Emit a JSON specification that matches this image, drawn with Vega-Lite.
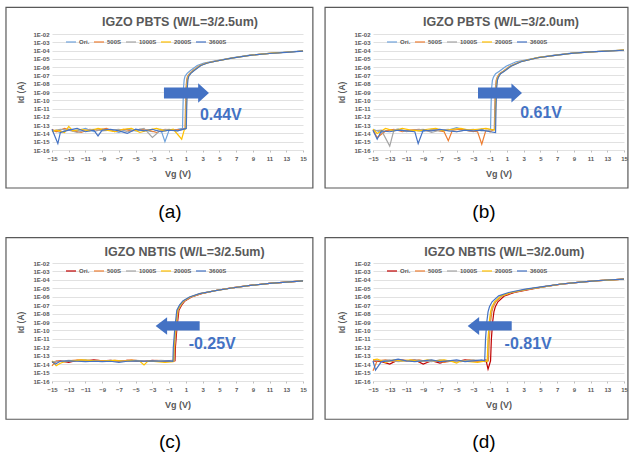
{
"$schema": "https://vega.github.io/schema/vega-lite/v6.json",
"padding": {"left": 5, "top": 6, "right": 0, "bottom": 0},
"background": "white",
"columns": 2,
"spacing": {"row": 113, "column": 70},
"bounds": "flush",
"align": "each",
"resolve": {"scale": {"color": "independent", "x": "independent", "y": "independent"}, "legend": {"color": "independent"}},
"config": {
  "view": {"stroke": null},
  "font": "Liberation Sans",
  "axis": {"labelFont": "Liberation Sans", "labelFontSize": 6, "labelFontWeight": "bold", "labelColor": "#595959", "titleFont": "Liberation Sans", "titleColor": "#595959", "titleFontWeight": "bold", "domain": false, "labelFlush": false, "labelOverlap": false},
  "axisX": {"grid": false, "ticks": true, "tickSize": 2, "tickColor": "#bfbfbf", "labelPadding": 3, "titlePadding": 8, "titleFontSize": 9, "labelAngle": 0},
  "axisY": {"grid": true, "ticks": false, "gridColor": "#d9d9d9", "gridWidth": 0.8, "labelPadding": 3, "titlePadding": 7, "titleFontSize": 8.5},
  "line": {"strokeWidth": 1.2}
},
"datasets": {
"a": [
{"s":"Ori.","x":-15,"y":2.5e-14},{"s":"Ori.","x":-14,"y":1.3e-14},{"s":"Ori.","x":-13,"y":3.2e-14},{"s":"Ori.","x":-12,"y":2e-14},{"s":"Ori.","x":-11,"y":4e-14},{"s":"Ori.","x":-10,"y":1.6e-14},{"s":"Ori.","x":-9,"y":3.2e-14},{"s":"Ori.","x":-8,"y":2.5e-14},{"s":"Ori.","x":-7,"y":1.3e-14},{"s":"Ori.","x":-6,"y":3.2e-14},{"s":"Ori.","x":-5,"y":2e-14},{"s":"Ori.","x":-4,"y":2.5e-14},{"s":"Ori.","x":-3,"y":1.6e-14},{"s":"Ori.","x":-2,"y":3.2e-14},{"s":"Ori.","x":-1.5,"y":1e-15},{"s":"Ori.","x":-1,"y":2.5e-14},{"s":"Ori.","x":0,"y":3.2e-14},{"s":"Ori.","x":0.6,"y":4e-14},{"s":"Ori.","x":0.65,"y":1e-11},{"s":"Ori.","x":0.72,"y":3.2e-9},{"s":"Ori.","x":0.8,"y":3.2e-8},{"s":"Ori.","x":0.9,"y":8e-8},{"s":"Ori.","x":1.15,"y":1.8e-7},{"s":"Ori.","x":1.55,"y":4e-7},{"s":"Ori.","x":2.35,"y":1.6e-6},{"s":"Ori.","x":3.15,"y":3.2e-6},{"s":"Ori.","x":4.7,"y":6e-6},{"s":"Ori.","x":6.5,"y":1.3e-5},{"s":"Ori.","x":8.65,"y":2.8e-5},{"s":"Ori.","x":11,"y":4.6e-5},{"s":"Ori.","x":13,"y":6.4e-5},{"s":"Ori.","x":15,"y":9e-5},
{"s":"500S","x":-15,"y":3.2e-14},{"s":"500S","x":-14.5,"y":1.6e-14},{"s":"500S","x":-13.5,"y":4e-14},{"s":"500S","x":-12.5,"y":2e-14},{"s":"500S","x":-11.5,"y":1.3e-14},{"s":"500S","x":-10.5,"y":3.2e-14},{"s":"500S","x":-9.5,"y":2.5e-14},{"s":"500S","x":-8.5,"y":4e-14},{"s":"500S","x":-7.5,"y":1.6e-14},{"s":"500S","x":-6.5,"y":3.2e-14},{"s":"500S","x":-5.5,"y":2e-14},{"s":"500S","x":-4.5,"y":3.2e-14},{"s":"500S","x":-3.5,"y":2.5e-14},{"s":"500S","x":-2.5,"y":1.3e-14},{"s":"500S","x":-1.5,"y":3.2e-14},{"s":"500S","x":-0.5,"y":2.5e-14},{"s":"500S","x":0.5,"y":3.2e-14},{"s":"500S","x":0.9,"y":4e-14},{"s":"500S","x":0.95,"y":1e-11},{"s":"500S","x":1.02,"y":3.2e-9},{"s":"500S","x":1.1,"y":3.2e-8},{"s":"500S","x":1.2,"y":8e-8},{"s":"500S","x":1.45,"y":1.8e-7},{"s":"500S","x":1.85,"y":4e-7},{"s":"500S","x":2.65,"y":1.6e-6},{"s":"500S","x":3.45,"y":3.2e-6},{"s":"500S","x":4.7,"y":5.7e-6},{"s":"500S","x":6.5,"y":1.27e-5},{"s":"500S","x":8.65,"y":2.72e-5},{"s":"500S","x":11,"y":4.5e-5},{"s":"500S","x":13,"y":6.3e-5},{"s":"500S","x":15,"y":8.9e-5},
{"s":"1000S","x":-15,"y":2e-14},{"s":"1000S","x":-14,"y":3.2e-14},{"s":"1000S","x":-13,"y":2.5e-14},{"s":"1000S","x":-12,"y":1.3e-14},{"s":"1000S","x":-11,"y":2.5e-14},{"s":"1000S","x":-10,"y":3.2e-14},{"s":"1000S","x":-9,"y":2e-14},{"s":"1000S","x":-8,"y":2.5e-14},{"s":"1000S","x":-7,"y":3.2e-14},{"s":"1000S","x":-6,"y":1.6e-14},{"s":"1000S","x":-5,"y":2.5e-14},{"s":"1000S","x":-4,"y":4e-14},{"s":"1000S","x":-3,"y":3.2e-15},{"s":"1000S","x":-2,"y":2.5e-14},{"s":"1000S","x":-1,"y":3.2e-14},{"s":"1000S","x":0,"y":2e-14},{"s":"1000S","x":0.95,"y":4e-14},{"s":"1000S","x":1.0,"y":1e-11},{"s":"1000S","x":1.07,"y":3.2e-9},{"s":"1000S","x":1.15,"y":3.2e-8},{"s":"1000S","x":1.25,"y":8e-8},{"s":"1000S","x":1.5,"y":1.8e-7},{"s":"1000S","x":1.9,"y":4e-7},{"s":"1000S","x":2.7,"y":1.6e-6},{"s":"1000S","x":3.5,"y":3.2e-6},{"s":"1000S","x":4.7,"y":5.6e-6},{"s":"1000S","x":6.5,"y":1.26e-5},{"s":"1000S","x":8.65,"y":2.7e-5},{"s":"1000S","x":11,"y":4.5e-5},{"s":"1000S","x":13,"y":6.3e-5},{"s":"1000S","x":15,"y":8.9e-5},
{"s":"2000S","x":-15,"y":1.6e-14},{"s":"2000S","x":-14.5,"y":2.5e-14},{"s":"2000S","x":-13.5,"y":1.3e-14},{"s":"2000S","x":-13,"y":7e-14},{"s":"2000S","x":-12.5,"y":2e-14},{"s":"2000S","x":-11.5,"y":3.2e-14},{"s":"2000S","x":-10.5,"y":2e-14},{"s":"2000S","x":-9.5,"y":4e-14},{"s":"2000S","x":-8.5,"y":2.5e-14},{"s":"2000S","x":-7.5,"y":1.6e-14},{"s":"2000S","x":-6.5,"y":3.2e-14},{"s":"2000S","x":-5.5,"y":4e-14},{"s":"2000S","x":-4.5,"y":1.3e-14},{"s":"2000S","x":-3.5,"y":2.5e-14},{"s":"2000S","x":-2.5,"y":4e-14},{"s":"2000S","x":-1.5,"y":2e-14},{"s":"2000S","x":-0.5,"y":3.2e-14},{"s":"2000S","x":0.5,"y":2e-15},{"s":"2000S","x":0.8,"y":2.5e-14},{"s":"2000S","x":1.0,"y":4e-14},{"s":"2000S","x":1.05,"y":1e-11},{"s":"2000S","x":1.12,"y":3.2e-9},{"s":"2000S","x":1.2,"y":3.2e-8},{"s":"2000S","x":1.3,"y":8e-8},{"s":"2000S","x":1.55,"y":1.8e-7},{"s":"2000S","x":1.95,"y":4e-7},{"s":"2000S","x":2.75,"y":1.6e-6},{"s":"2000S","x":3.55,"y":3.2e-6},{"s":"2000S","x":4.7,"y":5.55e-6},{"s":"2000S","x":6.5,"y":1.25e-5},{"s":"2000S","x":8.65,"y":2.68e-5},{"s":"2000S","x":11,"y":4.47e-5},{"s":"2000S","x":13,"y":6.25e-5},{"s":"2000S","x":15,"y":8.85e-5},
{"s":"3600S","x":-15,"y":3.2e-14},{"s":"3600S","x":-14.3,"y":6e-16},{"s":"3600S","x":-14,"y":1.3e-14},{"s":"3600S","x":-13,"y":2.5e-14},{"s":"3600S","x":-12,"y":4e-14},{"s":"3600S","x":-11,"y":1.6e-14},{"s":"3600S","x":-10,"y":2.5e-14},{"s":"3600S","x":-9.5,"y":5e-15},{"s":"3600S","x":-9,"y":2.5e-14},{"s":"3600S","x":-8,"y":3.2e-14},{"s":"3600S","x":-7,"y":2e-14},{"s":"3600S","x":-6,"y":1e-14},{"s":"3600S","x":-5,"y":3.2e-14},{"s":"3600S","x":-4,"y":2e-14},{"s":"3600S","x":-3,"y":3.2e-14},{"s":"3600S","x":-2,"y":1.6e-14},{"s":"3600S","x":-1,"y":2.5e-14},{"s":"3600S","x":0,"y":2e-14},{"s":"3600S","x":1.05,"y":4e-14},{"s":"3600S","x":1.1,"y":1e-11},{"s":"3600S","x":1.17,"y":3.2e-9},{"s":"3600S","x":1.25,"y":3.2e-8},{"s":"3600S","x":1.35,"y":8e-8},{"s":"3600S","x":1.6,"y":1.8e-7},{"s":"3600S","x":2.0,"y":4e-7},{"s":"3600S","x":2.8,"y":1.6e-6},{"s":"3600S","x":3.6,"y":3.2e-6},{"s":"3600S","x":4.7,"y":5.5e-6},{"s":"3600S","x":6.5,"y":1.24e-5},{"s":"3600S","x":8.65,"y":2.66e-5},{"s":"3600S","x":11,"y":4.45e-5},{"s":"3600S","x":13,"y":6.2e-5},{"s":"3600S","x":15,"y":8.8e-5}
],
"b": [
{"s":"Ori.","x":-15,"y":3.2e-14},{"s":"Ori.","x":-14,"y":1.3e-14},{"s":"Ori.","x":-13,"y":2.5e-14},{"s":"Ori.","x":-12,"y":3.2e-14},{"s":"Ori.","x":-11,"y":2e-14},{"s":"Ori.","x":-10,"y":2.5e-14},{"s":"Ori.","x":-9,"y":1.6e-14},{"s":"Ori.","x":-8,"y":3.2e-14},{"s":"Ori.","x":-7,"y":2e-14},{"s":"Ori.","x":-6,"y":2.5e-14},{"s":"Ori.","x":-5,"y":5e-14},{"s":"Ori.","x":-4,"y":2.5e-14},{"s":"Ori.","x":-3,"y":1.6e-14},{"s":"Ori.","x":-2,"y":3.2e-14},{"s":"Ori.","x":-1.5,"y":2e-14},{"s":"Ori.","x":-0.95,"y":3.2e-14},{"s":"Ori.","x":-0.9,"y":1e-11},{"s":"Ori.","x":-0.83,"y":2.5e-9},{"s":"Ori.","x":-0.73,"y":2.5e-8},{"s":"Ori.","x":-0.6,"y":6.3e-8},{"s":"Ori.","x":-0.35,"y":1.6e-7},{"s":"Ori.","x":0.1,"y":3.2e-7},{"s":"Ori.","x":0.9,"y":1.26e-6},{"s":"Ori.","x":2.1,"y":4.5e-6},{"s":"Ori.","x":4.7,"y":1.45e-5},{"s":"Ori.","x":6.5,"y":2.6e-5},{"s":"Ori.","x":8.7,"y":4.8e-5},{"s":"Ori.","x":11,"y":7.1e-5},{"s":"Ori.","x":13,"y":9e-5},{"s":"Ori.","x":15,"y":1.13e-4},
{"s":"500S","x":-15,"y":2.5e-14},{"s":"500S","x":-14.5,"y":3.2e-15},{"s":"500S","x":-13.5,"y":2e-14},{"s":"500S","x":-12.5,"y":3.2e-14},{"s":"500S","x":-11.5,"y":1.6e-14},{"s":"500S","x":-10.5,"y":2.5e-14},{"s":"500S","x":-9.5,"y":3.2e-14},{"s":"500S","x":-8.5,"y":2e-14},{"s":"500S","x":-7.5,"y":2.5e-14},{"s":"500S","x":-6.5,"y":1.6e-14},{"s":"500S","x":-6,"y":1.3e-15},{"s":"500S","x":-5.5,"y":2.5e-14},{"s":"500S","x":-4.5,"y":3.2e-14},{"s":"500S","x":-3.5,"y":2e-14},{"s":"500S","x":-2.5,"y":1.6e-14},{"s":"500S","x":-2,"y":5e-16},{"s":"500S","x":-1.5,"y":2.5e-14},{"s":"500S","x":-1,"y":1.6e-14},{"s":"500S","x":-0.5,"y":3.2e-14},{"s":"500S","x":-0.45,"y":1e-11},{"s":"500S","x":-0.38,"y":2.5e-9},{"s":"500S","x":-0.28,"y":2.5e-8},{"s":"500S","x":-0.15,"y":6.3e-8},{"s":"500S","x":0.1,"y":1.6e-7},{"s":"500S","x":0.55,"y":3.2e-7},{"s":"500S","x":1.35,"y":1.26e-6},{"s":"500S","x":2.55,"y":4.5e-6},{"s":"500S","x":4.7,"y":1.4e-5},{"s":"500S","x":6.5,"y":2.52e-5},{"s":"500S","x":8.7,"y":4.72e-5},{"s":"500S","x":11,"y":7e-5},{"s":"500S","x":13,"y":8.9e-5},{"s":"500S","x":15,"y":1.12e-4},
{"s":"1000S","x":-15,"y":2e-14},{"s":"1000S","x":-14,"y":2.5e-14},{"s":"1000S","x":-13,"y":3e-16},{"s":"1000S","x":-12.5,"y":2.5e-14},{"s":"1000S","x":-12,"y":3.2e-14},{"s":"1000S","x":-11,"y":1.6e-14},{"s":"1000S","x":-10,"y":2.5e-14},{"s":"1000S","x":-9,"y":3.2e-14},{"s":"1000S","x":-8,"y":1.3e-14},{"s":"1000S","x":-7,"y":2.5e-14},{"s":"1000S","x":-6,"y":3.2e-14},{"s":"1000S","x":-5,"y":1.6e-14},{"s":"1000S","x":-4,"y":2.5e-14},{"s":"1000S","x":-3,"y":3.2e-14},{"s":"1000S","x":-2,"y":2e-14},{"s":"1000S","x":-1,"y":2.5e-14},{"s":"1000S","x":-0.45,"y":3.2e-14},{"s":"1000S","x":-0.4,"y":1e-11},{"s":"1000S","x":-0.33,"y":2.5e-9},{"s":"1000S","x":-0.23,"y":2.5e-8},{"s":"1000S","x":-0.1,"y":6.3e-8},{"s":"1000S","x":0.15,"y":1.6e-7},{"s":"1000S","x":0.6,"y":3.2e-7},{"s":"1000S","x":1.4,"y":1.26e-6},{"s":"1000S","x":2.6,"y":4.5e-6},{"s":"1000S","x":4.7,"y":1.39e-5},{"s":"1000S","x":6.5,"y":2.5e-5},{"s":"1000S","x":8.7,"y":4.7e-5},{"s":"1000S","x":11,"y":7e-5},{"s":"1000S","x":13,"y":8.9e-5},{"s":"1000S","x":15,"y":1.12e-4},
{"s":"2000S","x":-15,"y":3.2e-14},{"s":"2000S","x":-14.5,"y":1e-14},{"s":"2000S","x":-13.5,"y":4e-14},{"s":"2000S","x":-12.5,"y":2e-14},{"s":"2000S","x":-11.5,"y":4e-14},{"s":"2000S","x":-10.5,"y":2.5e-14},{"s":"2000S","x":-9.5,"y":2e-14},{"s":"2000S","x":-8.5,"y":3.2e-14},{"s":"2000S","x":-7.5,"y":4e-14},{"s":"2000S","x":-6.5,"y":2e-14},{"s":"2000S","x":-5.5,"y":3.2e-14},{"s":"2000S","x":-4.5,"y":4e-14},{"s":"2000S","x":-3.5,"y":2.5e-14},{"s":"2000S","x":-2.5,"y":3.2e-14},{"s":"2000S","x":-1.5,"y":4e-14},{"s":"2000S","x":-0.5,"y":2.5e-14},{"s":"2000S","x":-0.4,"y":3.2e-14},{"s":"2000S","x":-0.35,"y":1e-11},{"s":"2000S","x":-0.28,"y":2.5e-9},{"s":"2000S","x":-0.18,"y":2.5e-8},{"s":"2000S","x":-0.05,"y":6.3e-8},{"s":"2000S","x":0.2,"y":1.6e-7},{"s":"2000S","x":0.65,"y":3.2e-7},{"s":"2000S","x":1.45,"y":1.26e-6},{"s":"2000S","x":2.65,"y":4.5e-6},{"s":"2000S","x":4.7,"y":1.38e-5},{"s":"2000S","x":6.5,"y":2.49e-5},{"s":"2000S","x":8.7,"y":4.68e-5},{"s":"2000S","x":11,"y":6.95e-5},{"s":"2000S","x":13,"y":8.85e-5},{"s":"2000S","x":15,"y":1.11e-4},
{"s":"3600S","x":-15,"y":2.5e-14},{"s":"3600S","x":-14.5,"y":2e-15},{"s":"3600S","x":-14,"y":2e-14},{"s":"3600S","x":-13,"y":1.6e-14},{"s":"3600S","x":-12,"y":2.5e-14},{"s":"3600S","x":-11,"y":2e-14},{"s":"3600S","x":-10,"y":1.6e-14},{"s":"3600S","x":-9.6,"y":6e-16},{"s":"3600S","x":-9,"y":2.5e-14},{"s":"3600S","x":-8,"y":2e-14},{"s":"3600S","x":-7,"y":3.2e-14},{"s":"3600S","x":-6,"y":2e-14},{"s":"3600S","x":-5,"y":1.6e-14},{"s":"3600S","x":-4,"y":2.5e-14},{"s":"3600S","x":-3,"y":2e-14},{"s":"3600S","x":-2,"y":2.5e-14},{"s":"3600S","x":-1,"y":1.6e-14},{"s":"3600S","x":-0.35,"y":1.3e-14},{"s":"3600S","x":-0.3,"y":1e-11},{"s":"3600S","x":-0.23,"y":2.5e-9},{"s":"3600S","x":-0.13,"y":2.5e-8},{"s":"3600S","x":0.0,"y":6.3e-8},{"s":"3600S","x":0.25,"y":1.6e-7},{"s":"3600S","x":0.7,"y":3.2e-7},{"s":"3600S","x":1.5,"y":1.26e-6},{"s":"3600S","x":2.7,"y":4.5e-6},{"s":"3600S","x":4.7,"y":1.37e-5},{"s":"3600S","x":6.5,"y":2.48e-5},{"s":"3600S","x":8.7,"y":4.65e-5},{"s":"3600S","x":11,"y":6.9e-5},{"s":"3600S","x":13,"y":8.8e-5},{"s":"3600S","x":15,"y":1.1e-4}
],
"c": [
{"s":"Ori.","x":-15,"y":1.6e-14},{"s":"Ori.","x":-14,"y":2.5e-14},{"s":"Ori.","x":-13,"y":1.6e-14},{"s":"Ori.","x":-12,"y":2.8e-14},{"s":"Ori.","x":-11,"y":2.5e-14},{"s":"Ori.","x":-10,"y":3.2e-14},{"s":"Ori.","x":-9,"y":2.5e-14},{"s":"Ori.","x":-8,"y":2.8e-14},{"s":"Ori.","x":-7,"y":2.2e-14},{"s":"Ori.","x":-6,"y":2.8e-14},{"s":"Ori.","x":-5,"y":2.5e-14},{"s":"Ori.","x":-4,"y":2.2e-14},{"s":"Ori.","x":-3,"y":2.8e-14},{"s":"Ori.","x":-2,"y":2.5e-14},{"s":"Ori.","x":-1,"y":2.2e-14},{"s":"Ori.","x":-0.3,"y":2.5e-14},{"s":"Ori.","x":-0.25,"y":1e-12},{"s":"Ori.","x":-0.06,"y":2.5e-10},{"s":"Ori.","x":0.17,"y":2.5e-8},{"s":"Ori.","x":0.49,"y":1e-7},{"s":"Ori.","x":0.89,"y":3.2e-7},{"s":"Ori.","x":1.68,"y":9.3e-7},{"s":"Ori.","x":2.87,"y":2.3e-6},{"s":"Ori.","x":4.73,"y":5.9e-6},{"s":"Ori.","x":6.5,"y":1.12e-5},{"s":"Ori.","x":8.7,"y":2.22e-5},{"s":"Ori.","x":11,"y":3.82e-5},{"s":"Ori.","x":13,"y":5.42e-5},{"s":"Ori.","x":15,"y":7.42e-5},
{"s":"500S","x":-15,"y":6.3e-15},{"s":"500S","x":-14.5,"y":2.5e-14},{"s":"500S","x":-13.5,"y":2e-14},{"s":"500S","x":-12.5,"y":2.8e-14},{"s":"500S","x":-11.5,"y":3.2e-14},{"s":"500S","x":-10.5,"y":2.5e-14},{"s":"500S","x":-9.5,"y":2.8e-14},{"s":"500S","x":-8.5,"y":2.2e-14},{"s":"500S","x":-7.5,"y":2.8e-14},{"s":"500S","x":-6.5,"y":2.5e-14},{"s":"500S","x":-5.5,"y":3.2e-14},{"s":"500S","x":-4.5,"y":2.5e-14},{"s":"500S","x":-3.5,"y":2.2e-14},{"s":"500S","x":-2.5,"y":2.8e-14},{"s":"500S","x":-1.5,"y":2.5e-14},{"s":"500S","x":-0.5,"y":2.8e-14},{"s":"500S","x":-0.38,"y":2.5e-14},{"s":"500S","x":-0.33,"y":1e-12},{"s":"500S","x":-0.14,"y":2.5e-10},{"s":"500S","x":0.09,"y":2.5e-8},{"s":"500S","x":0.41,"y":1e-7},{"s":"500S","x":0.81,"y":3.2e-7},{"s":"500S","x":1.6,"y":9.3e-7},{"s":"500S","x":2.79,"y":2.3e-6},{"s":"500S","x":4.73,"y":5.85e-6},{"s":"500S","x":6.5,"y":1.11e-5},{"s":"500S","x":8.7,"y":2.21e-5},{"s":"500S","x":11,"y":3.81e-5},{"s":"500S","x":13,"y":5.41e-5},{"s":"500S","x":15,"y":7.41e-5},
{"s":"1000S","x":-15,"y":2e-14},{"s":"1000S","x":-14,"y":2.2e-14},{"s":"1000S","x":-13,"y":2.8e-14},{"s":"1000S","x":-12,"y":2.5e-14},{"s":"1000S","x":-11,"y":3.2e-14},{"s":"1000S","x":-10,"y":2.5e-14},{"s":"1000S","x":-9,"y":2.2e-14},{"s":"1000S","x":-8,"y":2.8e-14},{"s":"1000S","x":-7,"y":2.5e-14},{"s":"1000S","x":-6,"y":2.2e-14},{"s":"1000S","x":-5,"y":2.8e-14},{"s":"1000S","x":-4,"y":2.5e-14},{"s":"1000S","x":-3,"y":2.2e-14},{"s":"1000S","x":-2,"y":2.8e-14},{"s":"1000S","x":-1,"y":2.5e-14},{"s":"1000S","x":-0.42,"y":2.8e-14},{"s":"1000S","x":-0.37,"y":1e-12},{"s":"1000S","x":-0.18,"y":2.5e-10},{"s":"1000S","x":0.05,"y":2.5e-8},{"s":"1000S","x":0.37,"y":1e-7},{"s":"1000S","x":0.77,"y":3.2e-7},{"s":"1000S","x":1.56,"y":9.3e-7},{"s":"1000S","x":2.75,"y":2.3e-6},{"s":"1000S","x":4.73,"y":5.8e-6},{"s":"1000S","x":6.5,"y":1.1e-5},{"s":"1000S","x":8.7,"y":2.2e-5},{"s":"1000S","x":11,"y":3.8e-5},{"s":"1000S","x":13,"y":5.4e-5},{"s":"1000S","x":15,"y":7.4e-5},
{"s":"2000S","x":-15,"y":2.5e-14},{"s":"2000S","x":-14.5,"y":6.3e-15},{"s":"2000S","x":-14,"y":1.3e-14},{"s":"2000S","x":-13.5,"y":2e-14},{"s":"2000S","x":-12.5,"y":2.5e-14},{"s":"2000S","x":-11.5,"y":3.2e-14},{"s":"2000S","x":-10.5,"y":2.8e-14},{"s":"2000S","x":-9.5,"y":2.2e-14},{"s":"2000S","x":-8.5,"y":2.5e-14},{"s":"2000S","x":-7.5,"y":2.8e-14},{"s":"2000S","x":-6.5,"y":2.2e-14},{"s":"2000S","x":-5.5,"y":2.8e-14},{"s":"2000S","x":-4.5,"y":2.2e-14},{"s":"2000S","x":-4,"y":8e-15},{"s":"2000S","x":-3.5,"y":2.5e-14},{"s":"2000S","x":-2.5,"y":2e-14},{"s":"2000S","x":-1.5,"y":1.6e-14},{"s":"2000S","x":-0.5,"y":2e-14},{"s":"2000S","x":-0.47,"y":2.2e-14},{"s":"2000S","x":-0.42,"y":1e-12},{"s":"2000S","x":-0.23,"y":2.5e-10},{"s":"2000S","x":0.0,"y":2.5e-8},{"s":"2000S","x":0.32,"y":1e-7},{"s":"2000S","x":0.72,"y":3.2e-7},{"s":"2000S","x":1.51,"y":9.3e-7},{"s":"2000S","x":2.7,"y":2.3e-6},{"s":"2000S","x":4.73,"y":5.78e-6},{"s":"2000S","x":6.5,"y":1.09e-5},{"s":"2000S","x":8.7,"y":2.19e-5},{"s":"2000S","x":11,"y":3.79e-5},{"s":"2000S","x":13,"y":5.39e-5},{"s":"2000S","x":15,"y":7.39e-5},
{"s":"3600S","x":-15,"y":2e-14},{"s":"3600S","x":-14.6,"y":1e-14},{"s":"3600S","x":-14,"y":2.2e-14},{"s":"3600S","x":-13,"y":2.5e-14},{"s":"3600S","x":-12,"y":2.2e-14},{"s":"3600S","x":-11,"y":2e-14},{"s":"3600S","x":-10,"y":2.2e-14},{"s":"3600S","x":-9,"y":2e-14},{"s":"3600S","x":-8,"y":2.2e-14},{"s":"3600S","x":-7,"y":1.6e-14},{"s":"3600S","x":-6,"y":2.2e-14},{"s":"3600S","x":-5,"y":2.5e-14},{"s":"3600S","x":-4,"y":2.2e-14},{"s":"3600S","x":-3,"y":2.5e-14},{"s":"3600S","x":-2,"y":2.2e-14},{"s":"3600S","x":-1,"y":2.5e-14},{"s":"3600S","x":-0.55,"y":2.2e-14},{"s":"3600S","x":-0.5,"y":1e-12},{"s":"3600S","x":-0.31,"y":2.5e-10},{"s":"3600S","x":-0.08,"y":2.5e-8},{"s":"3600S","x":0.24,"y":1e-7},{"s":"3600S","x":0.64,"y":3.2e-7},{"s":"3600S","x":1.43,"y":9.3e-7},{"s":"3600S","x":2.62,"y":2.3e-6},{"s":"3600S","x":4.73,"y":5.75e-6},{"s":"3600S","x":6.5,"y":1.08e-5},{"s":"3600S","x":8.7,"y":2.18e-5},{"s":"3600S","x":11,"y":3.78e-5},{"s":"3600S","x":13,"y":5.38e-5},{"s":"3600S","x":15,"y":7.38e-5}
],
"d": [
{"s":"Ori.","x":-15,"y":2.5e-14},{"s":"Ori.","x":-14,"y":2e-14},{"s":"Ori.","x":-13,"y":1e-14},{"s":"Ori.","x":-12,"y":3.2e-14},{"s":"Ori.","x":-11,"y":2.5e-14},{"s":"Ori.","x":-10,"y":3.2e-14},{"s":"Ori.","x":-9,"y":1e-14},{"s":"Ori.","x":-8,"y":2.5e-14},{"s":"Ori.","x":-7,"y":1.3e-14},{"s":"Ori.","x":-6,"y":2.5e-14},{"s":"Ori.","x":-5,"y":2e-14},{"s":"Ori.","x":-4,"y":3.2e-14},{"s":"Ori.","x":-3,"y":2.5e-14},{"s":"Ori.","x":-2,"y":2.5e-14},{"s":"Ori.","x":-1.5,"y":3.2e-14},{"s":"Ori.","x":-1.25,"y":2.5e-15},{"s":"Ori.","x":-0.95,"y":2.5e-14},{"s":"Ori.","x":-0.85,"y":1e-11},{"s":"Ori.","x":-0.7,"y":1e-9},{"s":"Ori.","x":-0.55,"y":1.6e-8},{"s":"Ori.","x":-0.38,"y":6.3e-8},{"s":"Ori.","x":-0.07,"y":2.5e-7},{"s":"Ori.","x":0.72,"y":1.26e-6},{"s":"Ori.","x":1.91,"y":3.2e-6},{"s":"Ori.","x":3.9,"y":7.9e-6},{"s":"Ori.","x":5.5,"y":1.58e-5},{"s":"Ori.","x":7.5,"y":3.15e-5},{"s":"Ori.","x":9.5,"y":4.95e-5},{"s":"Ori.","x":11.5,"y":7.5e-5},{"s":"Ori.","x":13,"y":9.4e-5},{"s":"Ori.","x":15,"y":1.19e-4},
{"s":"500S","x":-15,"y":1.6e-15},{"s":"500S","x":-14.5,"y":2.5e-14},{"s":"500S","x":-13.5,"y":3.2e-14},{"s":"500S","x":-12.5,"y":2e-14},{"s":"500S","x":-11.5,"y":3.2e-14},{"s":"500S","x":-10.5,"y":2.5e-14},{"s":"500S","x":-9.5,"y":3.2e-14},{"s":"500S","x":-8.5,"y":2e-14},{"s":"500S","x":-7.5,"y":2.5e-14},{"s":"500S","x":-6.5,"y":1.6e-14},{"s":"500S","x":-5.5,"y":2.5e-14},{"s":"500S","x":-4.5,"y":2e-14},{"s":"500S","x":-3.5,"y":3.2e-14},{"s":"500S","x":-2.5,"y":2.5e-14},{"s":"500S","x":-1.5,"y":2e-14},{"s":"500S","x":-1.2,"y":2.5e-14},{"s":"500S","x":-1.1,"y":1e-11},{"s":"500S","x":-0.95,"y":1e-9},{"s":"500S","x":-0.8,"y":1.6e-8},{"s":"500S","x":-0.63,"y":6.3e-8},{"s":"500S","x":-0.32,"y":2.5e-7},{"s":"500S","x":0.47,"y":1.26e-6},{"s":"500S","x":1.66,"y":3.2e-6},{"s":"500S","x":3.65,"y":7.9e-6},{"s":"500S","x":5.5,"y":1.6e-5},{"s":"500S","x":7.5,"y":3.18e-5},{"s":"500S","x":9.5,"y":4.98e-5},{"s":"500S","x":11.5,"y":7.55e-5},{"s":"500S","x":13,"y":9.45e-5},{"s":"500S","x":15,"y":1.195e-4},
{"s":"1000S","x":-15,"y":3.2e-14},{"s":"1000S","x":-14,"y":2.5e-14},{"s":"1000S","x":-13,"y":3.2e-14},{"s":"1000S","x":-12,"y":2e-14},{"s":"1000S","x":-11,"y":2.5e-14},{"s":"1000S","x":-10,"y":3.2e-14},{"s":"1000S","x":-9,"y":2.5e-14},{"s":"1000S","x":-8,"y":2e-14},{"s":"1000S","x":-7,"y":3.2e-14},{"s":"1000S","x":-6,"y":2.5e-14},{"s":"1000S","x":-5,"y":2e-14},{"s":"1000S","x":-4,"y":2.5e-14},{"s":"1000S","x":-3,"y":3.2e-14},{"s":"1000S","x":-2,"y":2.5e-14},{"s":"1000S","x":-1.3,"y":2.5e-14},{"s":"1000S","x":-1.2,"y":1e-11},{"s":"1000S","x":-1.05,"y":1e-9},{"s":"1000S","x":-0.9,"y":1.6e-8},{"s":"1000S","x":-0.73,"y":6.3e-8},{"s":"1000S","x":-0.42,"y":2.5e-7},{"s":"1000S","x":0.37,"y":1.26e-6},{"s":"1000S","x":1.56,"y":3.2e-6},{"s":"1000S","x":3.55,"y":7.9e-6},{"s":"1000S","x":5.5,"y":1.6e-5},{"s":"1000S","x":7.5,"y":3.2e-5},{"s":"1000S","x":9.5,"y":5e-5},{"s":"1000S","x":11.5,"y":7.6e-5},{"s":"1000S","x":13,"y":9.5e-5},{"s":"1000S","x":15,"y":1.2e-4},
{"s":"2000S","x":-15,"y":3.2e-14},{"s":"2000S","x":-14.5,"y":4e-14},{"s":"2000S","x":-13.5,"y":1.6e-14},{"s":"2000S","x":-12.5,"y":3.2e-14},{"s":"2000S","x":-11.5,"y":2.5e-14},{"s":"2000S","x":-10.5,"y":3.2e-14},{"s":"2000S","x":-9.5,"y":2e-14},{"s":"2000S","x":-8.5,"y":3.2e-14},{"s":"2000S","x":-7.5,"y":2.5e-14},{"s":"2000S","x":-6.5,"y":3.2e-14},{"s":"2000S","x":-5.5,"y":2e-14},{"s":"2000S","x":-5,"y":1.3e-14},{"s":"2000S","x":-4.5,"y":2.5e-14},{"s":"2000S","x":-3.5,"y":2e-14},{"s":"2000S","x":-2.5,"y":1.6e-14},{"s":"2000S","x":-1.5,"y":2.5e-14},{"s":"2000S","x":-1.35,"y":2e-14},{"s":"2000S","x":-1.25,"y":1e-11},{"s":"2000S","x":-1.1,"y":1e-9},{"s":"2000S","x":-0.95,"y":1.6e-8},{"s":"2000S","x":-0.78,"y":6.3e-8},{"s":"2000S","x":-0.47,"y":2.5e-7},{"s":"2000S","x":0.32,"y":1.26e-6},{"s":"2000S","x":1.51,"y":3.2e-6},{"s":"2000S","x":3.5,"y":7.9e-6},{"s":"2000S","x":5.5,"y":1.61e-5},{"s":"2000S","x":7.5,"y":3.21e-5},{"s":"2000S","x":9.5,"y":5.02e-5},{"s":"2000S","x":11.5,"y":7.62e-5},{"s":"2000S","x":13,"y":9.52e-5},{"s":"2000S","x":15,"y":1.2e-4},
{"s":"3600S","x":-15,"y":2.5e-14},{"s":"3600S","x":-14.7,"y":2e-15},{"s":"3600S","x":-14,"y":2e-14},{"s":"3600S","x":-13,"y":2.5e-14},{"s":"3600S","x":-12,"y":4e-14},{"s":"3600S","x":-11,"y":2.5e-14},{"s":"3600S","x":-10,"y":2e-14},{"s":"3600S","x":-9,"y":2.5e-14},{"s":"3600S","x":-8,"y":3.2e-14},{"s":"3600S","x":-7,"y":2e-14},{"s":"3600S","x":-6,"y":2.5e-14},{"s":"3600S","x":-5,"y":3.2e-14},{"s":"3600S","x":-4,"y":2e-14},{"s":"3600S","x":-3,"y":2.5e-14},{"s":"3600S","x":-2,"y":3.2e-14},{"s":"3600S","x":-1.65,"y":2.5e-14},{"s":"3600S","x":-1.55,"y":1e-11},{"s":"3600S","x":-1.4,"y":1e-9},{"s":"3600S","x":-1.25,"y":1.6e-8},{"s":"3600S","x":-1.08,"y":6.3e-8},{"s":"3600S","x":-0.77,"y":2.5e-7},{"s":"3600S","x":0.02,"y":1.26e-6},{"s":"3600S","x":1.21,"y":3.2e-6},{"s":"3600S","x":3.2,"y":7.9e-6},{"s":"3600S","x":5.5,"y":1.65e-5},{"s":"3600S","x":7.5,"y":3.25e-5},{"s":"3600S","x":9.5,"y":5.05e-5},{"s":"3600S","x":11.5,"y":7.65e-5},{"s":"3600S","x":13,"y":9.55e-5},{"s":"3600S","x":15,"y":1.21e-4}
]
},
"concat": [
{
 "width": 251, "height": 116,
 "layer": [
  {"data": {"name": "a"}, "mark": {"type": "line"},
   "encoding": {
    "x": {"field": "x", "type": "quantitative", "scale": {"domain": [-15, 15], "nice": false, "zero": false}, "axis": {"title": "Vg (V)", "tickCount": 40, "labelOverlap": false, "labelFlush": false, "values": [-15,-13,-11,-9,-7,-5,-3,-1,1,3,5,7,9,11,13,15]}},
    "y": {"field": "y", "type": "quantitative", "scale": {"type": "log", "domain": [1e-16, 1e-2], "nice": false}, "axis": {"title": "Id (A)", "tickCount": 40, "labelOverlap": false, "labelFlush": false, "values": [1e-16,1e-15,1e-14,1e-13,1e-12,1e-11,1e-10,1e-9,1e-8,1e-7,1e-6,1e-5,1e-4,1e-3,1e-2], "labelExpr": "'1E-' + (round(-log(datum.value)/LN10) < 10 ? '0' : '') + round(-log(datum.value)/LN10)"}},
    "color": {"field": "s", "type": "nominal", "scale": {"domain": ["Ori.","500S","1000S","2000S","3600S"], "range": ["#6FA3DC","#ED7D31","#A5A5A5","#FFC000","#4472C4"]},
      "legend": {"orient": "none", "legendX": 13, "legendY": 2, "direction": "horizontal", "title": null, "symbolType": "stroke", "symbolSize": 100, "symbolStrokeWidth": 1.5, "labelFont": "Liberation Sans", "labelFontSize": 6, "labelFontWeight": "bold", "labelColor": "#595959", "labelOffset": 2, "columnPadding": 1, "padding": 0}}
   }},
  {"data": {"values": [{}]}, "mark": {"type": "rect", "fillOpacity": 0, "stroke": "#595959", "strokeWidth": 1.2},
   "encoding": {"x": {"datum": -20.5, "type": "quantitative"}, "x2": {"datum": 16.18},
                "y": {"datum": 16.6, "type": "quantitative"}, "y2": {"datum": 2.6e-21}}},
  {"data": {"values": [{}]}, "mark": {"type": "text", "text": "IGZO PBTS (W/L=3/2.5um)", "align": "center", "baseline": "middle", "font": "Liberation Sans", "fontWeight": "bold", "fontSize": 12.5, "color": "#595959"},
   "encoding": {"x": {"datum": 0.3, "type": "quantitative"}, "y": {"datum": 0.257, "type": "quantitative"}}},
  {"data": {"values": [{}]}, "mark": {"type": "point", "shape": "M-1,-0.245L0.52,-0.245L0.52,-0.43L1,0L0.52,0.43L0.52,0.245L-1,0.245Z", "filled": true, "color": "#4472C4", "opacity": 1, "size": 2025, "strokeWidth": 0},
   "encoding": {"x": {"datum": 1.07, "type": "quantitative"}, "y": {"datum": 7.6e-10, "type": "quantitative"}}},
  {"data": {"values": [{}]}, "mark": {"type": "text", "text": "0.44V", "align": "left", "baseline": "middle", "font": "Liberation Sans", "fontWeight": "bold", "fontSize": 16, "color": "#4472C4"},
   "encoding": {"x": {"datum": 2.68, "type": "quantitative"}, "y": {"datum": 1.6e-12, "type": "quantitative"}}},
  {"data": {"values": [{}]}, "mark": {"type": "text", "text": "(a)", "align": "center", "baseline": "middle", "font": "Liberation Sans", "fontSize": 19, "color": "#000000"},
   "encoding": {"x": {"datum": -0.9, "type": "quantitative"}, "y": {"datum": 3.2e-24, "type": "quantitative"}}}
 ]
},
{
 "width": 251, "height": 116,
 "layer": [
  {"data": {"name": "b"}, "mark": {"type": "line"},
   "encoding": {
    "x": {"field": "x", "type": "quantitative", "scale": {"domain": [-15, 15], "nice": false, "zero": false}, "axis": {"title": "Vg (V)", "tickCount": 40, "labelOverlap": false, "labelFlush": false, "values": [-15,-13,-11,-9,-7,-5,-3,-1,1,3,5,7,9,11,13,15]}},
    "y": {"field": "y", "type": "quantitative", "scale": {"type": "log", "domain": [1e-16, 1e-2], "nice": false}, "axis": {"title": "Id (A)", "tickCount": 40, "labelOverlap": false, "labelFlush": false, "values": [1e-16,1e-15,1e-14,1e-13,1e-12,1e-11,1e-10,1e-9,1e-8,1e-7,1e-6,1e-5,1e-4,1e-3,1e-2], "labelExpr": "'1E-' + (round(-log(datum.value)/LN10) < 10 ? '0' : '') + round(-log(datum.value)/LN10)"}},
    "color": {"field": "s", "type": "nominal", "scale": {"domain": ["Ori.","500S","1000S","2000S","3600S"], "range": ["#6FA3DC","#ED7D31","#A5A5A5","#FFC000","#4472C4"]},
      "legend": {"orient": "none", "legendX": 13, "legendY": 2, "direction": "horizontal", "title": null, "symbolType": "stroke", "symbolSize": 100, "symbolStrokeWidth": 1.5, "labelFont": "Liberation Sans", "labelFontSize": 6, "labelFontWeight": "bold", "labelColor": "#595959", "labelOffset": 2, "columnPadding": 1, "padding": 0}}
   }},
  {"data": {"values": [{}]}, "mark": {"type": "rect", "fillOpacity": 0, "stroke": "#595959", "strokeWidth": 1.2},
   "encoding": {"x": {"datum": -20.73, "type": "quantitative"}, "x2": {"datum": 15.47},
                "y": {"datum": 16.6, "type": "quantitative"}, "y2": {"datum": 2.6e-21}}},
  {"data": {"values": [{}]}, "mark": {"type": "text", "text": "IGZO PBTS (W/L=3/2.0um)", "align": "center", "baseline": "middle", "font": "Liberation Sans", "fontWeight": "bold", "fontSize": 12.5, "color": "#595959"},
   "encoding": {"x": {"datum": 0.3, "type": "quantitative"}, "y": {"datum": 0.257, "type": "quantitative"}}},
  {"data": {"values": [{}]}, "mark": {"type": "point", "shape": "M-1,-0.245L0.52,-0.245L0.52,-0.43L1,0L0.52,0.43L0.52,0.245L-1,0.245Z", "filled": true, "color": "#4472C4", "opacity": 1, "size": 1936, "strokeWidth": 0},
   "encoding": {"x": {"datum": 0.18, "type": "quantitative"}, "y": {"datum": 7.6e-10, "type": "quantitative"}}},
  {"data": {"values": [{}]}, "mark": {"type": "text", "text": "0.61V", "align": "left", "baseline": "middle", "font": "Liberation Sans", "fontWeight": "bold", "fontSize": 16, "color": "#4472C4"},
   "encoding": {"x": {"datum": 2.59, "type": "quantitative"}, "y": {"datum": 3.3e-12, "type": "quantitative"}}},
  {"data": {"values": [{}]}, "mark": {"type": "text", "text": "(b)", "align": "center", "baseline": "middle", "font": "Liberation Sans", "fontSize": 19, "color": "#000000"},
   "encoding": {"x": {"datum": -1.74, "type": "quantitative"}, "y": {"datum": 3.2e-24, "type": "quantitative"}}}
 ]
},
{
 "width": 251, "height": 118,
 "layer": [
  {"data": {"name": "c"}, "mark": {"type": "line"},
   "encoding": {
    "x": {"field": "x", "type": "quantitative", "scale": {"domain": [-15, 15], "nice": false, "zero": false}, "axis": {"title": "Vg (V)", "tickCount": 40, "labelOverlap": false, "labelFlush": false, "values": [-15,-13,-11,-9,-7,-5,-3,-1,1,3,5,7,9,11,13,15]}},
    "y": {"field": "y", "type": "quantitative", "scale": {"type": "log", "domain": [1e-16, 1e-2], "nice": false}, "axis": {"title": "Id (A)", "tickCount": 40, "labelOverlap": false, "labelFlush": false, "values": [1e-16,1e-15,1e-14,1e-13,1e-12,1e-11,1e-10,1e-9,1e-8,1e-7,1e-6,1e-5,1e-4,1e-3,1e-2], "labelExpr": "'1E-' + (round(-log(datum.value)/LN10) < 10 ? '0' : '') + round(-log(datum.value)/LN10)"}},
    "color": {"field": "s", "type": "nominal", "scale": {"domain": ["Ori.","500S","1000S","2000S","3600S"], "range": ["#C00000","#ED7D31","#A5A5A5","#FFC000","#4472C4"]},
      "legend": {"orient": "none", "legendX": 13, "legendY": 2, "direction": "horizontal", "title": null, "symbolType": "stroke", "symbolSize": 100, "symbolStrokeWidth": 1.5, "labelFont": "Liberation Sans", "labelFontSize": 6, "labelFontWeight": "bold", "labelColor": "#595959", "labelOffset": 2, "columnPadding": 1, "padding": 0}}
   }},
  {"data": {"values": [{}]}, "mark": {"type": "rect", "fillOpacity": 0, "stroke": "#595959", "strokeWidth": 1.2},
   "encoding": {"x": {"datum": -20.5, "type": "quantitative"}, "x2": {"datum": 16.18},
                "y": {"datum": 10, "type": "quantitative"}, "y2": {"datum": 2.9e-21}}},
  {"data": {"values": [{}]}, "mark": {"type": "text", "text": "IGZO NBTIS (W/L=3/2.5um)", "align": "center", "baseline": "middle", "font": "Liberation Sans", "fontWeight": "bold", "fontSize": 12.5, "color": "#595959"},
   "encoding": {"x": {"datum": 0.85, "type": "quantitative"}, "y": {"datum": 0.2, "type": "quantitative"}}},
  {"data": {"values": [{}]}, "mark": {"type": "point", "shape": "M1,-0.21L-0.48,-0.21L-0.48,-0.4L-1,0L-0.48,0.4L-0.48,0.21L1,0.21Z", "filled": true, "color": "#4472C4", "opacity": 1, "size": 1936, "strokeWidth": 0},
   "encoding": {"x": {"datum": 0.02, "type": "quantitative"}, "y": {"datum": 3.4e-10, "type": "quantitative"}}},
  {"data": {"values": [{}]}, "mark": {"type": "text", "text": "-0.25V", "align": "left", "baseline": "middle", "font": "Liberation Sans", "fontWeight": "bold", "fontSize": 16, "color": "#4472C4"},
   "encoding": {"x": {"datum": 1.33, "type": "quantitative"}, "y": {"datum": 2.3e-12, "type": "quantitative"}}},
  {"data": {"values": [{}]}, "mark": {"type": "text", "text": "(c)", "align": "center", "baseline": "middle", "font": "Liberation Sans", "fontSize": 19, "color": "#000000"},
   "encoding": {"x": {"datum": -0.9, "type": "quantitative"}, "y": {"datum": 5.4e-24, "type": "quantitative"}}}
 ]
},
{
 "width": 251, "height": 118,
 "layer": [
  {"data": {"name": "d"}, "mark": {"type": "line"},
   "encoding": {
    "x": {"field": "x", "type": "quantitative", "scale": {"domain": [-15, 15], "nice": false, "zero": false}, "axis": {"title": "Vg (V)", "tickCount": 40, "labelOverlap": false, "labelFlush": false, "values": [-15,-13,-11,-9,-7,-5,-3,-1,1,3,5,7,9,11,13,15]}},
    "y": {"field": "y", "type": "quantitative", "scale": {"type": "log", "domain": [1e-16, 1e-2], "nice": false}, "axis": {"title": "Id (A)", "tickCount": 40, "labelOverlap": false, "labelFlush": false, "values": [1e-16,1e-15,1e-14,1e-13,1e-12,1e-11,1e-10,1e-9,1e-8,1e-7,1e-6,1e-5,1e-4,1e-3,1e-2], "labelExpr": "'1E-' + (round(-log(datum.value)/LN10) < 10 ? '0' : '') + round(-log(datum.value)/LN10)"}},
    "color": {"field": "s", "type": "nominal", "scale": {"domain": ["Ori.","500S","1000S","2000S","3600S"], "range": ["#C00000","#ED7D31","#A5A5A5","#FFC000","#4472C4"]},
      "legend": {"orient": "none", "legendX": 13, "legendY": 2, "direction": "horizontal", "title": null, "symbolType": "stroke", "symbolSize": 100, "symbolStrokeWidth": 1.5, "labelFont": "Liberation Sans", "labelFontSize": 6, "labelFontWeight": "bold", "labelColor": "#595959", "labelOffset": 2, "columnPadding": 1, "padding": 0}}
   }},
  {"data": {"values": [{}]}, "mark": {"type": "rect", "fillOpacity": 0, "stroke": "#595959", "strokeWidth": 1.2},
   "encoding": {"x": {"datum": -20.73, "type": "quantitative"}, "x2": {"datum": 15.47},
                "y": {"datum": 10, "type": "quantitative"}, "y2": {"datum": 2.9e-21}}},
  {"data": {"values": [{}]}, "mark": {"type": "text", "text": "IGZO NBTIS (W/L=3/2.0um)", "align": "center", "baseline": "middle", "font": "Liberation Sans", "fontWeight": "bold", "fontSize": 12.5, "color": "#595959"},
   "encoding": {"x": {"datum": 0.7, "type": "quantitative"}, "y": {"datum": 0.2, "type": "quantitative"}}},
  {"data": {"values": [{}]}, "mark": {"type": "point", "shape": "M1,-0.21L-0.48,-0.21L-0.48,-0.41L-1,0L-0.48,0.41L-0.48,0.21L1,0.21Z", "filled": true, "color": "#4472C4", "opacity": 1, "size": 1936, "strokeWidth": 0},
   "encoding": {"x": {"datum": -1.05, "type": "quantitative"}, "y": {"datum": 3.4e-10, "type": "quantitative"}}},
  {"data": {"values": [{}]}, "mark": {"type": "text", "text": "-0.81V", "align": "left", "baseline": "middle", "font": "Liberation Sans", "fontWeight": "bold", "fontSize": 16, "color": "#4472C4"},
   "encoding": {"x": {"datum": 0.73, "type": "quantitative"}, "y": {"datum": 2.75e-12, "type": "quantitative"}}},
  {"data": {"values": [{}]}, "mark": {"type": "text", "text": "(d)", "align": "center", "baseline": "middle", "font": "Liberation Sans", "fontSize": 19, "color": "#000000"},
   "encoding": {"x": {"datum": -1.74, "type": "quantitative"}, "y": {"datum": 5.4e-24, "type": "quantitative"}}}
 ]
}
]
}
